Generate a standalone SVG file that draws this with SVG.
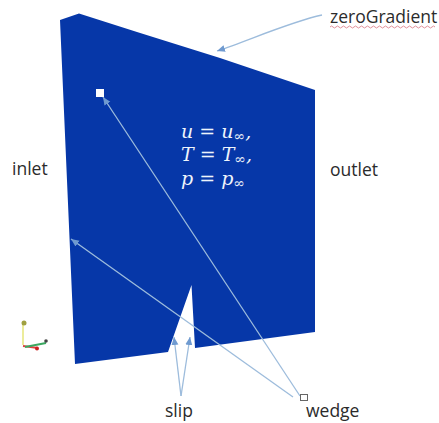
<svg xmlns="http://www.w3.org/2000/svg" width="439" height="423" viewBox="0 0 439 423">
<defs>
<marker id="arr" markerWidth="9" markerHeight="8" refX="8" refY="4" orient="auto" markerUnits="userSpaceOnUse"><path d="M0,0.5 L8,4 L0,7.5 Z" fill="#6f9ad0"/></marker>
</defs>
<style>
.lab{font-family:"Open Sans","DejaVu Sans",sans-serif;font-size:17.500px;fill:#2b2b2b}
.eq{font-family:"DejaVu Serif","Liberation Serif",serif;font-style:italic;font-size:19px;fill:#eef4fb}
.sub{font-family:"DejaVu Serif","Liberation Serif",serif;font-size:14px;fill:#eef4fb}
.ln{fill:none;stroke:#9dbcdc;stroke-width:1.300}
</style>
<rect width="439" height="423" fill="#ffffff"/>
<g id="domain">
<path d="M60,20 L79,13.500 L137,32 L220,58 L315,90 L315,332 L195,348 L191.500,285 L168,352 L75,364 Z" fill="#0637a8"/>
</g>
<g id="connectors">
<path class="ln" d="M322,15 C290,22 250,40 217,51" marker-end="url(#arr)"/>
<path class="ln" d="M300,396 L103,97" marker-end="url(#arr)"/>
<path class="ln" d="M293,397 L71,239" marker-end="url(#arr)"/>
<path class="ln" d="M181,396 L174,337" marker-end="url(#arr)"/>
<path class="ln" d="M181,396 L190,337" marker-end="url(#arr)"/>
</g>
<g id="marker-top"><rect x="96" y="89" width="8" height="8" fill="#ffffff"/></g>
<g id="marker-bottom"><rect x="300.500" y="394.500" width="7" height="6" fill="#ffffff" stroke="#666666"/></g>
<g id="equations">
<text class="eq" x="181" y="138">u = u<tspan class="sub" dy="3">∞</tspan><tspan dy="-3">,</tspan></text>
<text class="eq" x="181" y="161">T = T<tspan class="sub" dy="3">∞</tspan><tspan dy="-3">,</tspan></text>
<text class="eq" x="181" y="185">p = p<tspan class="sub" dy="3">∞</tspan></text>
</g>
<g id="zeroGradient">
<text class="lab" x="330" y="23">zeroGradient</text>
<path d="M330,27 q1.500,-2 3,0 t3,0 t3,0 t3,0 t3,0 t3,0 t3,0 t3,0 t3,0 t3,0 t3,0 t3,0 t3,0 t3,0 t3,0 t3,0 t3,0 t3,0 t3,0 t3,0 t3,0 t3,0 t3,0 t3,0 t3,0 t3,0 t3,0 t3,0 t3,0 t3,0 t3,0 t3,0 t3,0 t3,0 t3,0" fill="none" stroke="#d8737f" stroke-width="0.800"/>
</g>
<g id="inlet"><text class="lab" x="12" y="175">inlet</text></g>
<g id="outlet"><text class="lab" x="330" y="176">outlet</text></g>
<g id="slip"><text class="lab" x="165" y="417">slip</text></g>
<g id="wedge"><text class="lab" x="306" y="417">wedge</text></g>
<g id="axes">
<path d="M23,323 V345" stroke="#e6e67a" stroke-width="1.500" fill="none"/>
<path d="M23,346 L38,348" stroke="#e04040" stroke-width="2" fill="none"/>
<path d="M25,347 L46,343" stroke="#3aa860" stroke-width="2" fill="none"/>
<circle cx="37" cy="348.500" r="2" fill="#cc2020"/>
<circle cx="46" cy="341" r="1.800" fill="#444444"/>
<circle cx="24" cy="323" r="2.500" fill="#a0a040"/>
</g>
</svg>
